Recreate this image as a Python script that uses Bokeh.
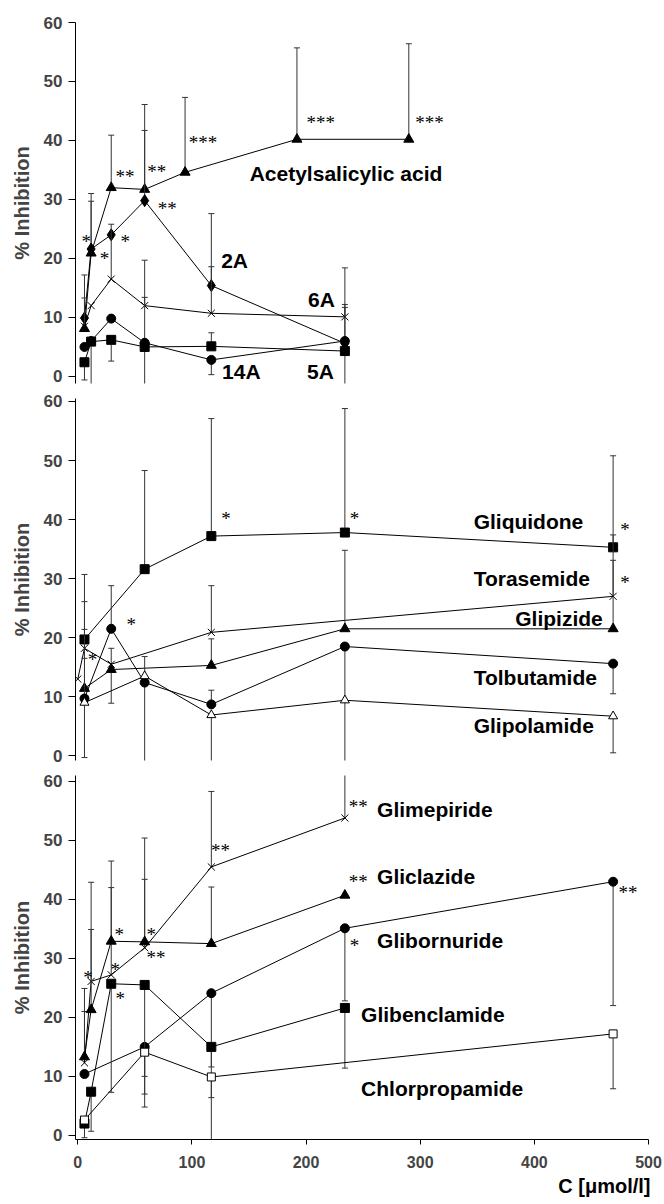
from bokeh.plotting import figure
from bokeh.layouts import column
from bokeh.models import Range1d, FixedTicker, ColumnDataSource, LabelSet, Title
from bokeh.core.properties import value
from bokeh.embed import file_html
from bokeh.resources import INLINE

# ---------------- data ----------------
x_ticks = [0, 100, 200, 300, 400, 500]
y_ticks = [0, 10, 20, 30, 40, 50, 60]

# top panel
asa_x = [5.86, 11.7, 29.3, 58.6, 94, 192, 290]
asa_y = [8.1, 20.9, 32.0, 31.7, 34.6, 40.2, 40.2]
asa_err = [None, 31.0, 40.9, 46.1, 47.3, 55.7, 56.4]

top_x = [5.86, 11.7, 29.3, 58.6, 117, 234]
a2_y = [9.9, 21.6, 24.0, 29.8, 15.4, 5.6]
a2_err = [17.2, 29.7, None, 41.7, 27.6, 11.7]
a6_y = [8.5, 12.0, 16.5, 12.0, 10.7, 10.1]
a6_err = [13.3, None, 25.8, 19.7, 18.6, 18.4]
a14_y = [5.0, 6.0, 9.8, 5.7, 2.8, 6.0]
a14_err = [None, None, None, 13.4, 0.3, 12.2]
a5_y = [2.4, 5.9, 6.2, 5.0, 5.1, 4.3]
a5_err = [-0.6, -1.5, 2.6, -1.5, 7.4, -1.5]

# middle panel
gliq_x = [5.86, 58.6, 117, 234, 469]
gliq_y = [19.7, 31.6, 37.2, 37.8, 35.3]
gliq_err = [30.7, 48.3, 57.1, 58.8, 50.8]
tora_x = [0, 5.86, 29.3, 117, 469]
tora_y = [13.0, 18.2, 15.5, 20.9, 27.0]
tora_err = [None, 26.1, 18.2, 28.8, 37.4]
glipi_x = [5.86, 29.3, 117, 234, 469]
glipi_y = [11.4, 14.6, 15.3, 21.5, 21.5]
glipi_err = [16.5, 8.9, 19.8, 34.8, 33.1]
tolb_x = [5.86, 29.3, 58.6, 117, 234, 469]
tolb_y = [9.7, 21.5, 12.4, 8.7, 18.5, 15.6]
tolb_err = [21.4, 28.8, -1.5, 11.1, -1.5, 10.5]
glipo_x = [5.86, 58.6, 117, 234, 469]
glipo_y = [9.0, 13.5, 6.9, 9.4, 6.7]
glipo_err = [-0.3, 16.8, -1.5, None, 0.5]

# bottom panel
bot_x = [5.86, 11.7, 29.3, 58.6, 117, 234]
glim_y = [12.3, 26.1, 27.2, 31.8, 45.5, 53.8]
glim_err = [21.0, 42.9, 42.0, 43.4, 58.3, 63.0]
glic_y = [13.3, 21.3, 32.9, 32.8, 32.5, 40.7]
glic_err = [24.9, 34.9, 46.5, 50.4, 42.1, None]
glibo_x = [5.86, 58.6, 117, 234, 469]
glibo_y = [10.4, 15.0, 24.1, 35.1, 43.0]
glibo_err = [None, 10.0, 11.6, 22.8, 22.0]
glibe_y = [2.0, 7.4, 25.7, 25.5, 15.0, 21.6]
glibe_err = [-0.4, 0.7, 7.3, 4.8, 6.4, 11.4]
chlor_x = [5.86, 58.6, 117, 469]
chlor_y = [2.6, 14.1, 9.9, 17.2]
chlor_err = [None, 7.0, -1.5, 7.9]

# annotations
top_lab_x = [150.6, 125.6, 201.7, 126.4, 200.9]
top_lab_y = [34.4, 19.7, 13.0, 0.9, 0.9]
top_lab_t = ["Acetylsalicylic acid", "2A", "6A", "14A", "5A"]
top_ast_x = [97.2, 200.3, 295.7, 33.0, 60.8, 70.0, 3.2, 37.4, 19.3]
top_ast_y = [40.1, 43.6, 43.6, 34.4, 35.3, 29.0, 23.4, 23.4, 20.5]
top_ast_t = ["***", "***", "***", "**", "**", "**", "*", "*", "*"]

mid_lab_x = [346.8, 346.8, 383.3, 346.8, 346.8]
mid_lab_y = [39.7, 30.1, 23.2, 13.2, 5.2]
mid_lab_t = ["Gliquidone", "Torasemide", "Glipizide", "Tolbutamide", "Glipolamide"]
mid_ast_x = [125.6, 238.2, 475.2, 475.2, 42.6, 8.8]
mid_ast_y = [40.7, 40.7, 38.8, 29.9, 22.8, 16.8]
mid_ast_t = ["*", "*", "*", "*", "*", "*"]

bot_lab_x = [262.2, 262.2, 262.2, 248.2, 248.2]
bot_lab_y = [55.2, 43.9, 33.1, 20.5, 7.9]
bot_lab_t = ["Glimepiride", "Gliclazide", "Glibornuride", "Glibenclamide", "Chlorpropamide"]
bot_ast_x = [237.3, 237.3, 238.2, 473.7, 116.8, 32.1, 60.2, 60.2, 28.6, 4.7, 33.0]
bot_ast_y = [56.2, 43.6, 32.7, 41.7, 48.8, 34.6, 34.6, 30.7, 28.7, 27.2, 23.7]
bot_ast_t = ["**", "**", "*", "**", "**", "*", "*", "**", "*", "*", "*"]

x_title = "C [μmol/l]"
y_title = "% Inhibition"

# ---------------- styling helpers ----------------
FONT = "Liberation Sans"


def make_fig(height, y_start, y_end, top_border, bottom_border, show_x):
    p = figure(width=664, height=height, output_backend="svg", toolbar_location=None,
               x_range=Range1d(-2, 500), y_range=Range1d(y_start, y_end),
               x_axis_location="below" if show_x else None,
               min_border_left=75, min_border_right=16,
               min_border_top=top_border, min_border_bottom=bottom_border)
    p.outline_line_color = None
    p.xgrid.visible = False
    p.ygrid.visible = False
    p.background_fill_color = "white"
    p.border_fill_color = "white"
    ax = p.yaxis[0]
    ax.ticker = FixedTicker(ticks=y_ticks)
    ax.axis_label = y_title
    ax.axis_label_text_font = FONT
    ax.axis_label_text_font_style = "bold"
    ax.axis_label_text_font_size = "20px"
    ax.axis_label_standoff = 8
    ax.major_label_text_font = FONT
    ax.major_label_text_font_style = "bold"
    ax.major_label_text_font_size = "17px"
    ax.major_label_standoff = 6
    ax.major_tick_out = 7
    ax.major_tick_in = 0
    ax.minor_tick_line_color = None
    ax.axis_line_color = "black"
    ax.major_tick_line_color = "black"
    if show_x:
        xa = p.xaxis[0]
        xa.ticker = FixedTicker(ticks=x_ticks)
        xa.major_label_text_font = FONT
        xa.major_label_text_font_style = "bold"
        xa.major_label_text_font_size = "16px"
        xa.major_label_standoff = 11
        xa.major_tick_out = 5
        xa.major_tick_in = 0
        xa.minor_tick_line_color = None
        xa.axis_line_color = "black"
        p.add_layout(Title(text=x_title, align="right", text_font=FONT,
                           text_font_style="bold", text_font_size="20px",
                           text_color="black", standoff=4, offset=-2), "below")
    return p


def draw_series(p, xs, ys, errs, marker, size, filled):
    ex = [x for x, e in zip(xs, errs) if e is not None]
    ey = [y for y, e in zip(ys, errs) if e is not None]
    ee = [e for e in errs if e is not None]
    if ex:
        p.segment(x0=ex, y0=ey, x1=ex, y1=ee, line_color="#333333", line_width=1)
        p.scatter(x=ex, y=ee, marker="dash", size=6, line_color="#333333", line_width=1)
    p.line(xs, ys, line_color="black", line_width=1)
    p.scatter(x=xs, y=ys, marker=marker, size=size,
              fill_color="black" if filled else "white",
              line_color="black", line_width=1)


def annotate(p, lx, ly, lt, axx, axy, axt):
    src = ColumnDataSource(dict(x=lx, y=ly, t=lt))
    p.add_layout(LabelSet(x="x", y="y", text="t", source=src,
                          text_font=value(FONT), text_font_style="bold",
                          text_font_size="21px", text_align="left",
                          text_baseline="middle", text_color="black"))
    src2 = ColumnDataSource(dict(x=axx, y=axy, t=axt))
    p.add_layout(LabelSet(x="x", y="y", text="t", source=src2,
                          text_font=value("Liberation Serif"),
                          text_font_size="19px", text_align="left",
                          text_baseline="middle", y_offset=-3, text_color="black"))


# ---------------- top panel ----------------
p1 = make_fig(388, -1.2, 60, 22, 5, False)
draw_series(p1, asa_x, asa_y, asa_err, "triangle", 10, True)
draw_series(p1, top_x, a2_y, a2_err, "diamond", 12, True)
draw_series(p1, top_x, a6_y, a6_err, "x", 10, False)
draw_series(p1, top_x, a14_y, a14_err, "circle", 9, True)
draw_series(p1, top_x, a5_y, a5_err, "square", 9, True)
annotate(p1, top_lab_x, top_lab_y, top_lab_t, top_ast_x, top_ast_y, top_ast_t)

# ---------------- middle panel ----------------
p2 = make_fig(378, -0.8, 60.5, 10, 6, False)
draw_series(p2, gliq_x, gliq_y, gliq_err, "square", 9, True)
draw_series(p2, tora_x, tora_y, tora_err, "x", 10, False)
draw_series(p2, glipi_x, glipi_y, glipi_err, "triangle", 10, True)
draw_series(p2, tolb_x, tolb_y, tolb_err, "circle", 9, True)
draw_series(p2, glipo_x, glipo_y, glipo_err, "triangle", 9, False)
annotate(p2, mid_lab_x, mid_lab_y, mid_lab_t, mid_ast_x, mid_ast_y, mid_ast_t)

# ---------------- bottom panel ----------------
p3 = make_fig(438, -0.7, 61, 9, 65, True)
draw_series(p3, bot_x, glim_y, glim_err, "x", 10, False)
draw_series(p3, bot_x, glic_y, glic_err, "triangle", 10, True)
draw_series(p3, glibo_x, glibo_y, glibo_err, "circle", 9, True)
draw_series(p3, bot_x, glibe_y, glibe_err, "square", 9, True)
draw_series(p3, chlor_x, chlor_y, chlor_err, "square", 8, False)
annotate(p3, bot_lab_x, bot_lab_y, bot_lab_t, bot_ast_x, bot_ast_y, bot_ast_t)

layout = column(p1, p2, p3, spacing=0)
open("out.html", "w").write(file_html(layout, INLINE))
